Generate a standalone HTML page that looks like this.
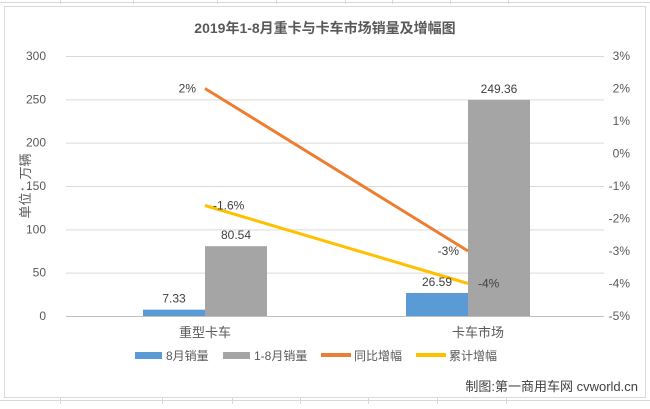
<!DOCTYPE html>
<html><head><meta charset="utf-8"><style>
body{margin:0;width:650px;height:404px;overflow:hidden;background:#fff;font-family:"Liberation Sans","Noto Sans CJK SC",sans-serif;}
</style></head><body>
<svg id="c" width="650" height="404" xmlns="http://www.w3.org/2000/svg">
<g stroke="#d8d8d8" stroke-width="1">
<line x1="0" y1="2.5" x2="650" y2="2.5"/><line x1="0" y1="400.5" x2="650" y2="400.5"/>
<line x1="60.5" y1="0" x2="60.5" y2="4"/><line x1="133.5" y1="0" x2="133.5" y2="4"/><line x1="217.5" y1="0" x2="217.5" y2="4"/><line x1="276.5" y1="0" x2="276.5" y2="4"/><line x1="345.5" y1="0" x2="345.5" y2="4"/><line x1="392.5" y1="0" x2="392.5" y2="4"/><line x1="450.5" y1="0" x2="450.5" y2="4"/><line x1="508.5" y1="0" x2="508.5" y2="4"/>
<line x1="60.5" y1="398" x2="60.5" y2="404"/><line x1="162.5" y1="398" x2="162.5" y2="404"/><line x1="232.5" y1="398" x2="232.5" y2="404"/><line x1="300.5" y1="398" x2="300.5" y2="404"/><line x1="368.5" y1="398" x2="368.5" y2="404"/><line x1="437.5" y1="398" x2="437.5" y2="404"/><line x1="506.5" y1="398" x2="506.5" y2="404"/>
</g>
<rect x="4.5" y="6.5" width="641" height="391" fill="#fff" stroke="#d9d9d9"/>
<text x="325" y="33" text-anchor="middle" font-size="14" font-weight="bold" fill="#595959">2019年1-8月重卡与卡车市场销量及增幅图</text>
<g id="grid"></g><g id="bars"></g><g id="lines"></g><g id="labels"></g>
<text transform="translate(30,186) rotate(-90)" text-anchor="middle" font-size="13" fill="#595959">单位：万辆</text>
<g font-size="12" fill="#595959">
<rect x="135" y="352" width="27" height="7" fill="#5b9bd5"/><text x="166" y="360">8月销量</text>
<rect x="223" y="352" width="27" height="7" fill="#a5a5a5"/><text x="254" y="360">1-8月销量</text>
<rect x="321" y="353" width="30" height="4" fill="#ed7d31"/><text x="354" y="360">同比增幅</text>
<rect x="416" y="353" width="30" height="4" fill="#ffc000"/><text x="449" y="360">累计增幅</text>
</g>
<text x="638" y="391" text-anchor="end" font-size="13" fill="#404040">制图:第一商用车网 cvworld.cn</text>
</svg>
<script>
const categories=["重型卡车","卡车市场"];
const monthSales=[7.33,26.59];
const ytdSales=[80.54,249.36];
const yoyGrowth=[2,-3];
const ytdGrowth=[-1.6,-4];
const yoyLabels=["2%","-3%"];
const ytdLabels=["-1.6%","-4%"];
const leftTicks=[0,50,100,150,200,250,300];
const rightTicks=[-5,-4,-3,-2,-1,0,1,2,3];
const NS="http://www.w3.org/2000/svg";
const yTop=56,yBot=316,x0=66,x1=604;
const yL=v=>yBot-(v/300)*(yBot-yTop);
const yR=v=>yBot-((v+5)/8)*(yBot-yTop);
const cx=i=>205+i*263;
function mk(tag,attrs,parent,txt){const e=document.createElementNS(NS,tag);for(const k in attrs)e.setAttribute(k,attrs[k]);if(txt!==undefined)e.textContent=txt;document.getElementById(parent).appendChild(e);return e;}
leftTicks.forEach(t=>{
 const l=mk("line",{x1:x0,x2:x1,y1:yL(t)+0.5,y2:yL(t)+0.5,stroke:t===0?"#bfbfbf":"#d9d9d9"},"grid");
 
 
 const tx=mk("text",{x:46,y:yL(t)+4,"text-anchor":"end","font-size":12,fill:"#595959"},"grid",String(t));
 
 
});
rightTicks.forEach(t=>{
 const tx=mk("text",{x:630,y:yR(t)+4,"text-anchor":"end","font-size":12,fill:"#595959"},"grid",t+"%");
 
 
});
categories.forEach((c,i)=>{
 const tx=mk("text",{x:cx(i)+(i?10:0),y:337,"text-anchor":"middle","font-size":13,fill:"#595959"},"labels",c);
 
 
 const b1=mk("rect",{x:cx(i)-62,y:yL(monthSales[i]),width:62,height:yBot-yL(monthSales[i]),fill:"#5b9bd5"},"bars");
 
 
 const b2=mk("rect",{x:cx(i),y:yL(ytdSales[i]),width:62,height:yBot-yL(ytdSales[i]),fill:"#a5a5a5"},"bars");
 
 
 const t1=mk("text",{x:cx(i)-31,y:yL(monthSales[i])-7,"text-anchor":"middle","font-size":12,fill:"#404040"},"labels",monthSales[i].toFixed(2));
 
 
 const t2=mk("text",{x:cx(i)+31,y:yL(ytdSales[i])-7,"text-anchor":"middle","font-size":12,fill:"#404040"},"labels",ytdSales[i].toFixed(2));
 
 
 const t3=mk("text",{x:cx(i)-9,y:yR(yoyGrowth[i])+4,"text-anchor":"end","font-size":12,fill:"#404040"},"labels",yoyLabels[i]);
 
 
 const t4=mk("text",{x:cx(i)+(i?10:8),y:yR(ytdGrowth[i])+4,"font-size":12,fill:"#404040"},"labels",ytdLabels[i]);
 
 
});
const p1=mk("polyline",{points:yoyGrowth.map((v,i)=>cx(i)+","+yR(v)).join(" "),fill:"none",stroke:"#ed7d31","stroke-width":3},"lines");


const p2=mk("polyline",{points:ytdGrowth.map((v,i)=>cx(i)+","+yR(v)).join(" "),fill:"none",stroke:"#ffc000","stroke-width":3},"lines");


</script>
</body></html>
